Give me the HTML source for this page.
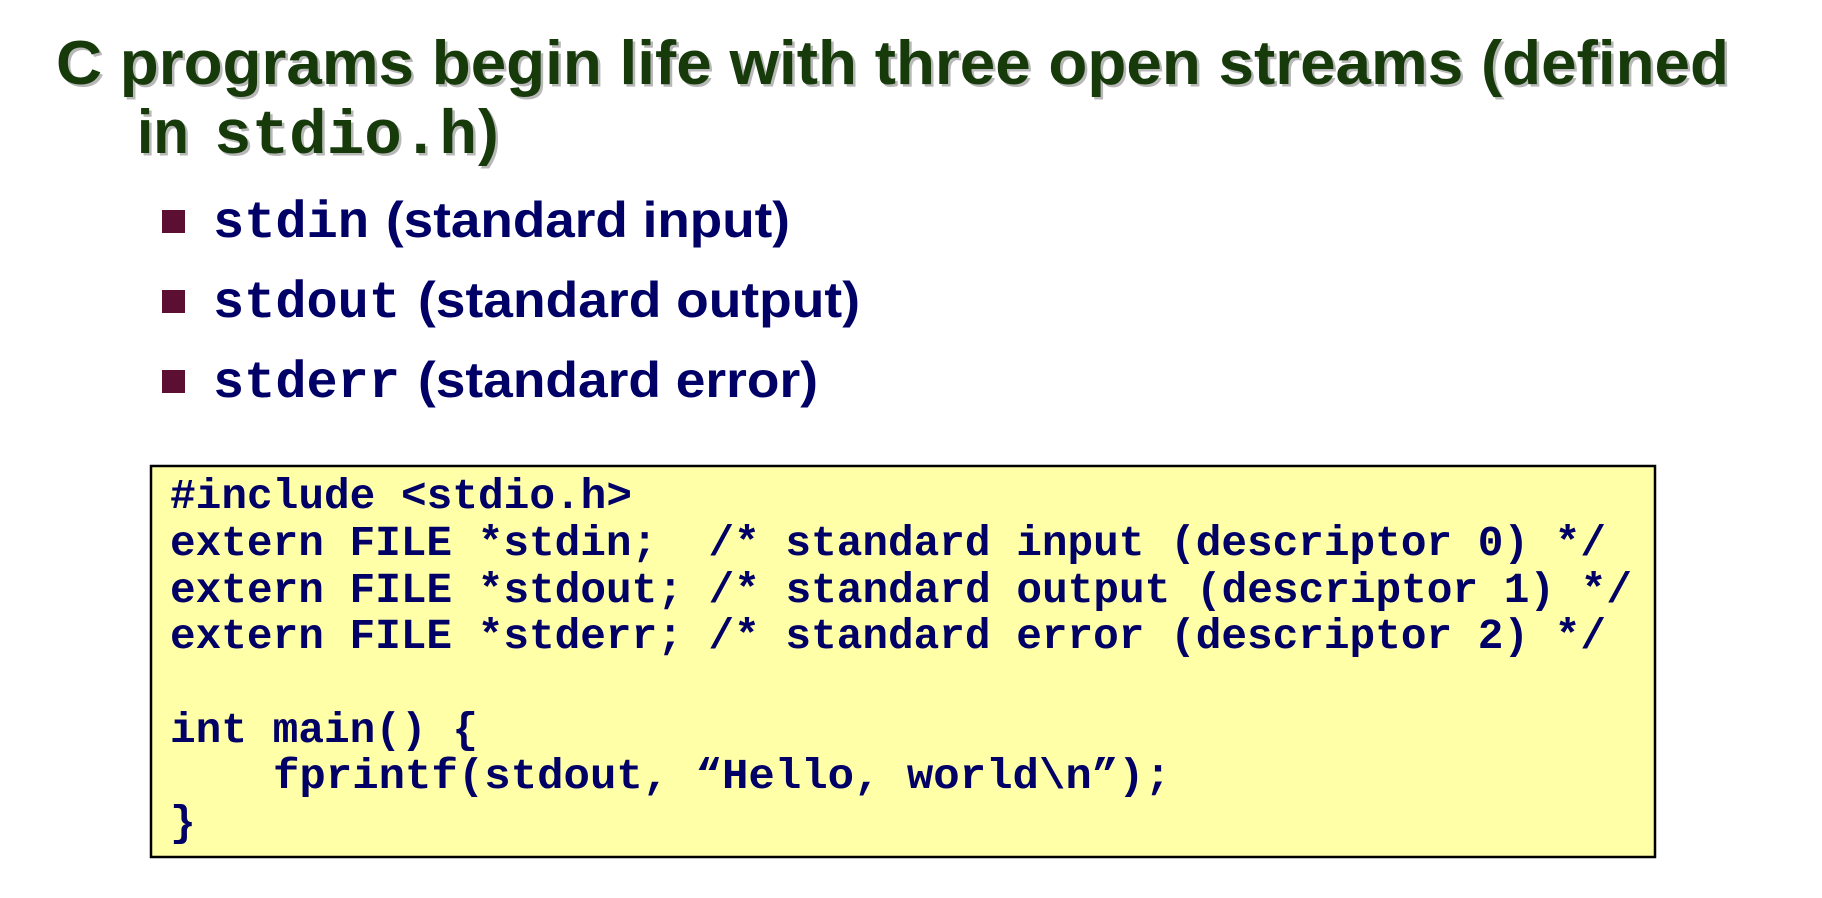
<!DOCTYPE html>
<html><head><meta charset="utf-8"><style>
html,body{margin:0;padding:0;background:#fff;width:1822px;height:898px;overflow:hidden}
svg{display:block}
.t{font-family:"Liberation Sans",Arial,sans-serif;font-weight:bold}
.m{font-family:"Liberation Mono","Courier New",monospace;font-weight:bold;white-space:pre}
</style></head><body>
<svg width="1822" height="898" viewBox="0 0 1822 898" xmlns="http://www.w3.org/2000/svg">
<g fill="#b8b8b8" transform="translate(2.5,2.5)">
<text class="t" x="56" y="84" font-size="62" textLength="1673" lengthAdjust="spacingAndGlyphs">C programs begin life with three open streams (defined</text>
<text class="t" x="137" y="153" font-size="62" textLength="52" lengthAdjust="spacingAndGlyphs">in</text>
<text class="m" x="214" y="153" font-size="62" textLength="263" lengthAdjust="spacingAndGlyphs">stdio.h</text>
<text class="t" x="478" y="153" font-size="62">)</text>
</g>
<g fill="#173a0b">
<text class="t" x="56" y="84" font-size="62" textLength="1673" lengthAdjust="spacingAndGlyphs">C programs begin life with three open streams (defined</text>
<text class="t" x="137" y="153" font-size="62" textLength="52" lengthAdjust="spacingAndGlyphs">in</text>
<text class="m" x="214" y="153" font-size="62" textLength="263" lengthAdjust="spacingAndGlyphs">stdio.h</text>
<text class="t" x="478" y="153" font-size="62">)</text>
</g>
<g fill="#5c0f33">
<rect x="162" y="210" width="23" height="23"/>
<rect x="162" y="290" width="23" height="23"/>
<rect x="162" y="370" width="23" height="23"/>
</g>
<g fill="#000066">
<text class="m" x="213" y="237" font-size="52" textLength="156" lengthAdjust="spacingAndGlyphs">stdin</text>
<text class="t" x="386" y="237" font-size="50" textLength="404" lengthAdjust="spacingAndGlyphs">(standard input)</text>
<text class="m" x="213" y="317" font-size="52" textLength="187" lengthAdjust="spacingAndGlyphs">stdout</text>
<text class="t" x="418" y="317" font-size="50" textLength="442" lengthAdjust="spacingAndGlyphs">(standard output)</text>
<text class="m" x="213" y="397" font-size="52" textLength="187" lengthAdjust="spacingAndGlyphs">stderr</text>
<text class="t" x="418" y="397" font-size="50" textLength="400" lengthAdjust="spacingAndGlyphs">(standard error)</text>
</g>
<rect x="151" y="466" width="1504" height="391" fill="#ffffa8" stroke="#000" stroke-width="2.5"/>
<g fill="#000066" font-size="43">
<text class="m" x="170" y="508" textLength="462" lengthAdjust="spacingAndGlyphs">#include &lt;stdio.h&gt;</text>
<text class="m" x="170" y="555" textLength="1436" lengthAdjust="spacingAndGlyphs">extern FILE *stdin;  /* standard input (descriptor 0) */</text>
<text class="m" x="170" y="602" textLength="1462" lengthAdjust="spacingAndGlyphs">extern FILE *stdout; /* standard output (descriptor 1) */</text>
<text class="m" x="170" y="648" textLength="1436" lengthAdjust="spacingAndGlyphs">extern FILE *stderr; /* standard error (descriptor 2) */</text>
<text class="m" x="170" y="742" textLength="308" lengthAdjust="spacingAndGlyphs">int main() {</text>
<text class="m" x="273" y="788" textLength="898" lengthAdjust="spacingAndGlyphs">fprintf(stdout, “Hello, world\n”);</text>
<text class="m" x="170" y="835">}</text>
</g>
</svg>
</body></html>
